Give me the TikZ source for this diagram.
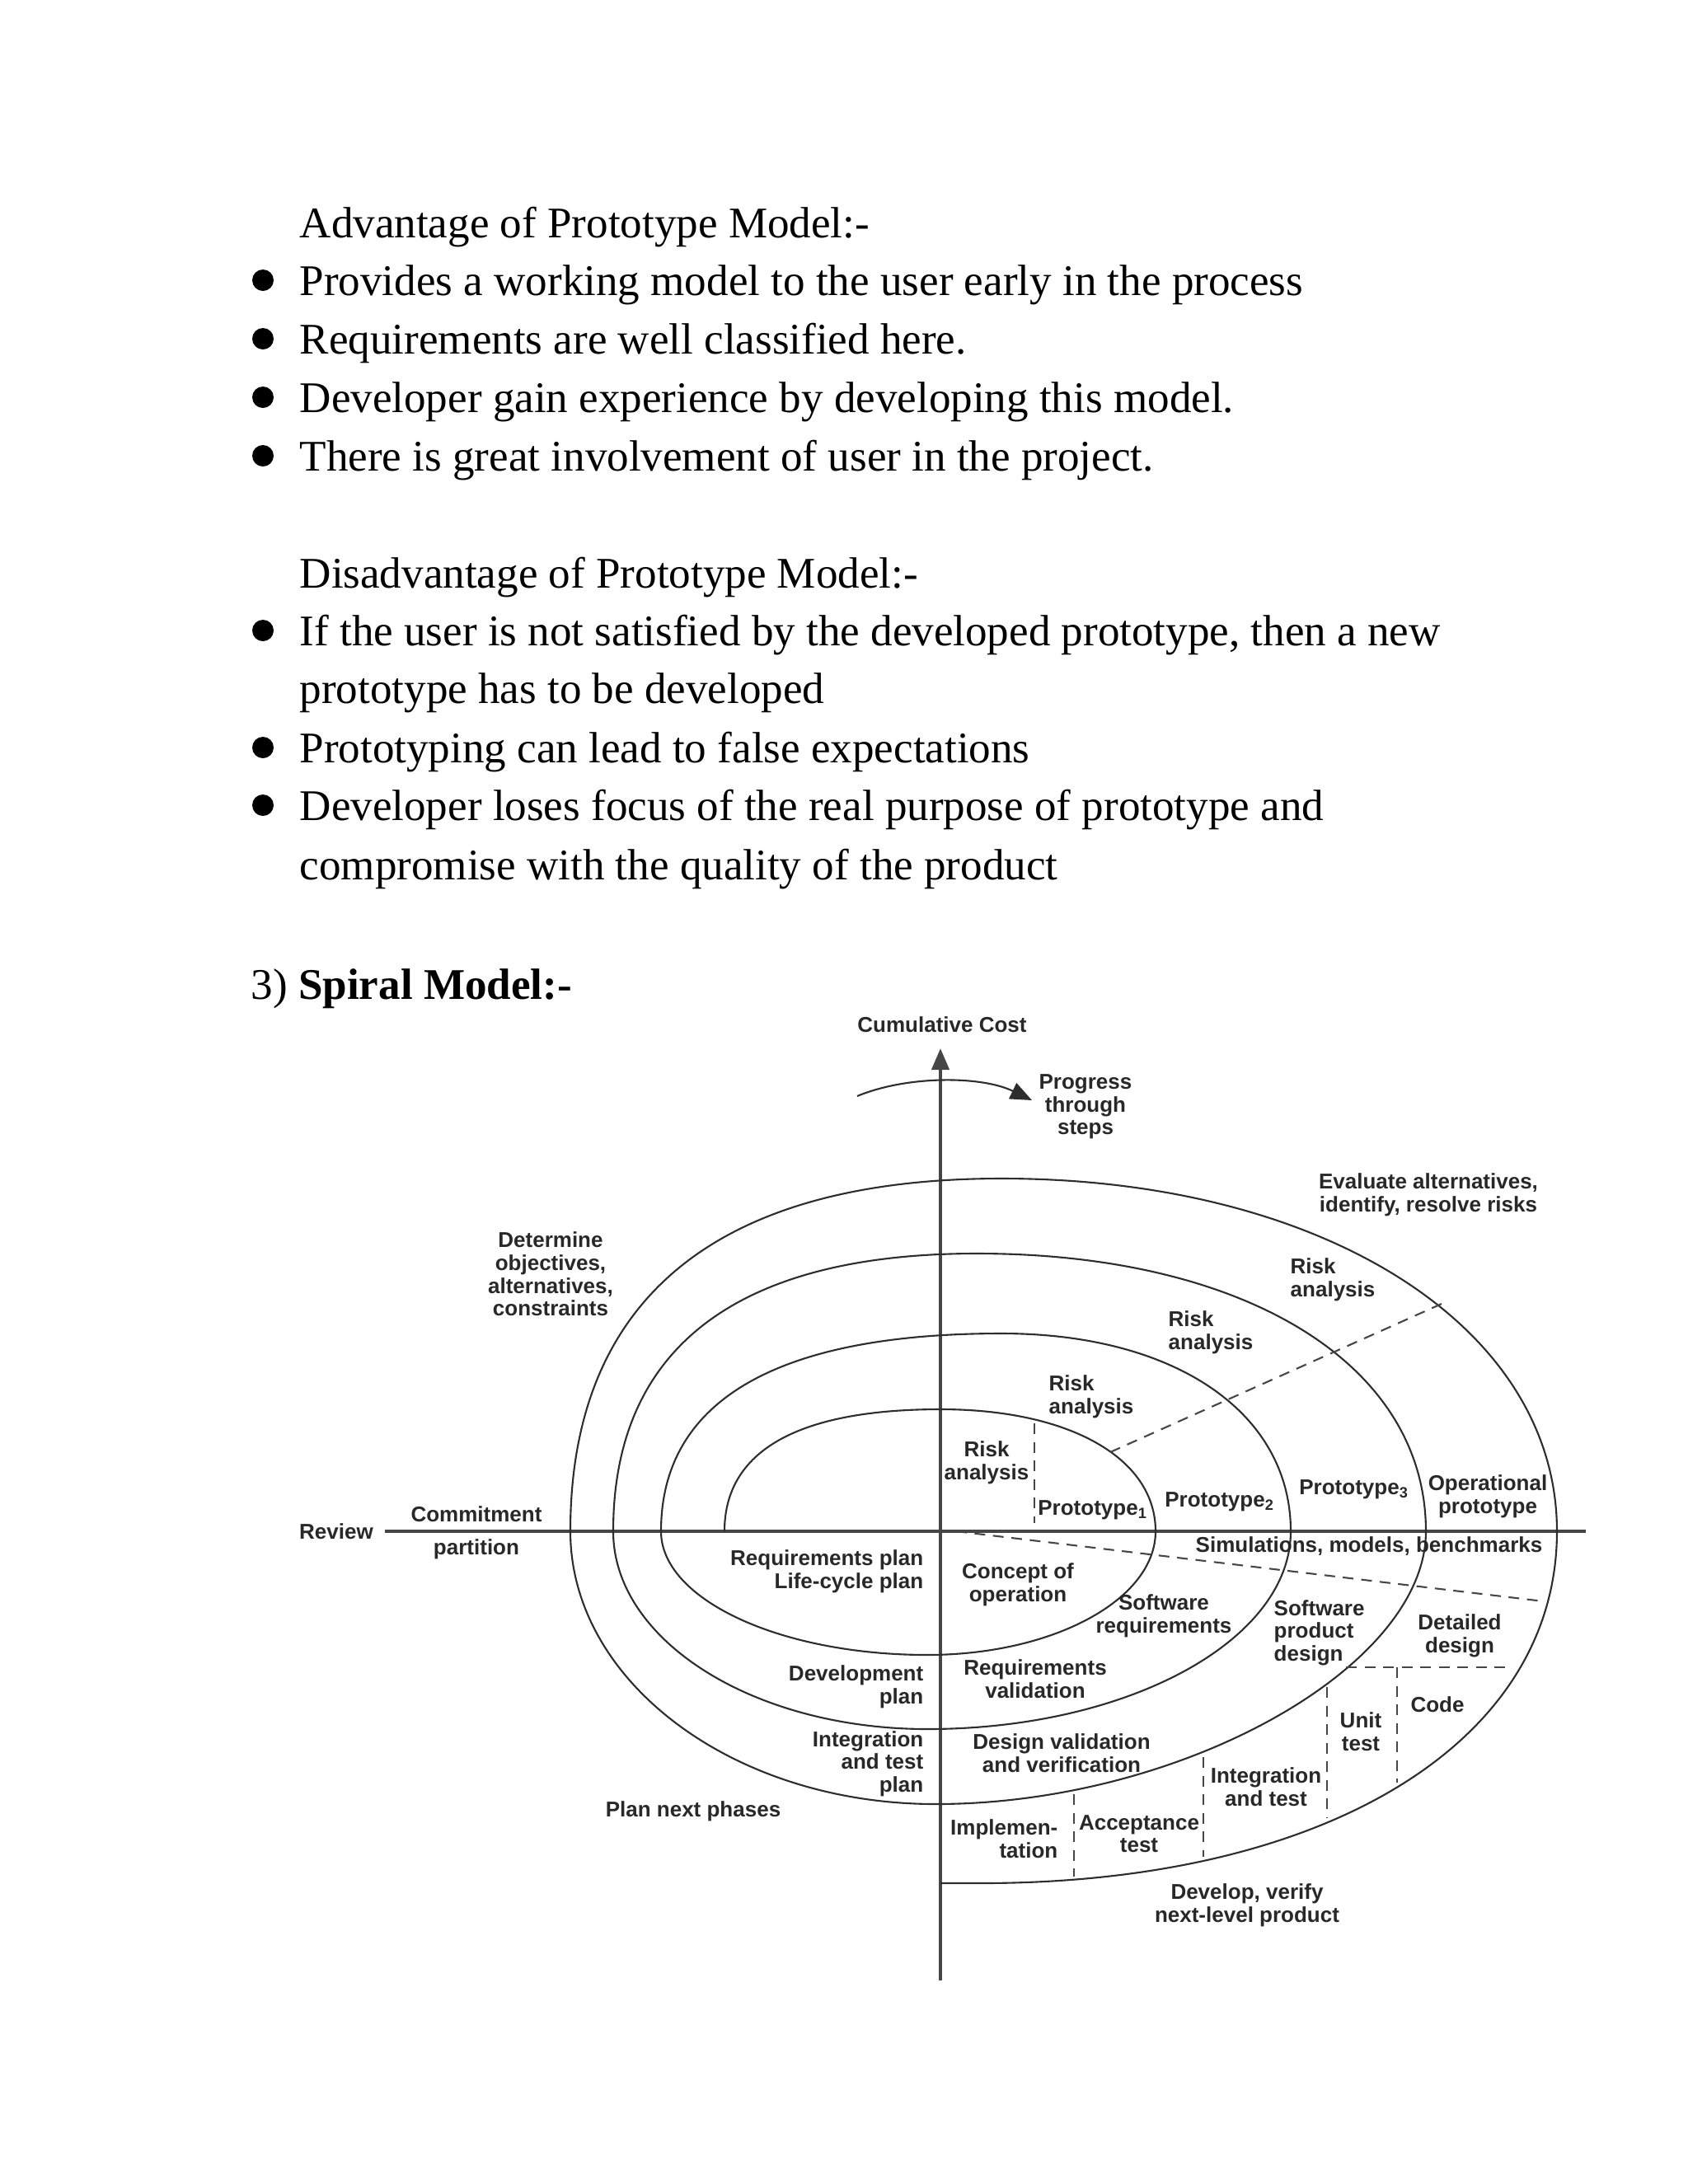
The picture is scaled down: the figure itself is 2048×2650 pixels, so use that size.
\documentclass[tikz,border=0pt]{standalone}
\usepackage{fontspec}
\setmainfont{Liberation Serif}
\newfontfamily\dfont{Liberation Sans}
\usetikzlibrary{arrows.meta}
\definecolor{dline}{RGB}{45,45,45}
\definecolor{dtext}{RGB}{40,40,40}
\definecolor{daxis}{RGB}{70,70,70}
\definecolor{ddash}{RGB}{70,70,70}
\begin{document}
\begin{tikzpicture}[x=0.1mm,y=0.1mm,
  body/.style={anchor=base west, inner sep=0, font=\fontsize{15.1}{18}\selectfont},
  bul/.style={fill=black},
  lbl/.style={inner sep=0, align=center, text=dtext, font=\dfont\bfseries\fontsize{7.4}{7.85}\selectfont},
  spiral/.style={draw=dline, line width=0.6pt},
  dsh/.style={draw=ddash, line width=0.6pt, dash pattern=on 1.3mm off 0.95mm},
  axisline/.style={draw=daxis, line width=1.2pt},
  tip/.style={-{Triangle[length=2.6mm,width=2.1mm]}}
]
\useasboundingbox (0,0) rectangle (2048,-2650);

% ---------- page text ----------
\node[body] (adv) at (363,-288) {Advantage of Prototype Model:-};
\node[body] (a1) at (363,-358) {Provides a working model to the user early in the process};
\node[body] (a2) at (363,-429) {Requirements are well classified here.};
\node[body] (a3) at (363,-500) {Developer gain experience by developing this model.};
\node[body] (a4) at (363,-571) {There is great involvement of user in the project.};
\node[body] (dis) at (363,-713) {Disadvantage of Prototype Model:-};
\node[body] (d1) at (363,-783) {If the user is not satisfied by the developed prototype, then a new};
\node[body] (d1b) at (363,-853) {prototype has to be developed};
\node[body] (d2) at (363,-925) {Prototyping can lead to false expectations};
\node[body] (d3) at (363,-995) {Developer loses focus of the real purpose of prototype and};
\node[body] (d3b) at (363,-1067) {compromise with the quality of the product};
\node[body] (title) at (304,-1212) {3) \textbf{Spiral Model:-}};

\foreach \yy in {358,429,500,571,783,925,995}
  \fill[bul] (319,-\yy+18) circle[radius=1.3mm];

% ---------- axes ----------
\coordinate (vbot) at (1141,-2403);
\coordinate (vtop) at (1141,-1272);
\coordinate (hl) at (467,-1858);
\coordinate (hr) at (1924,-1858);
\draw[axisline] (hl) -- (hr);
\draw[axisline,tip] (vbot) -- (vtop);

% progress arrow
\coordinate (ps) at (1040,-1330);
\coordinate (pe) at (1252,-1335);
\draw[spiral,tip] (ps) .. controls (1100,-1305) and (1190,-1305) .. (pe);

% ---------- spiral ----------
\draw[spiral] (879,-1858)
 .. controls (879,-1760.3) and (968.1,-1710) .. (1141,-1710)
 .. controls (1297.6,-1710) and (1402,-1769.2) .. (1402,-1858)
 .. controls (1402,-1940.8) and (1278,-2008) .. (1125,-2008)
 .. controls (946.6,-2008) and (802,-1940.8) .. (802,-1858)
 .. controls (802,-1699.6) and (942.4,-1618) .. (1215,-1618)
 .. controls (1425.6,-1618) and (1566,-1714) .. (1566,-1858)
 .. controls (1566,-1990.6) and (1368.6,-2098) .. (1125,-2098)
 .. controls (914.6,-2098) and (744,-1990.6) .. (744,-1858)
 .. controls (744,-1635.6) and (894,-1521) .. (1185,-1521)
 .. controls (1512,-1521) and (1730,-1655.8) .. (1730,-1858)
 .. controls (1730,-2023.5) and (1432.5,-2189) .. (1135,-2189)
 .. controls (890.3,-2189) and (692,-2040.8) .. (692,-1858)
 .. controls (692,-1575.5) and (869.8,-1430) .. (1215,-1430)
 .. controls (1606,-1430) and (1889,-1609.8) .. (1889,-1858)
 .. controls (1889,-2114.2) and (1609.4,-2285) .. (1190,-2285)
 -- (1141,-2285);

% ---------- dashed dividers ----------
\draw[dsh] (1347,-1762) -- (1749,-1582);
\draw[dsh] (1255,-1727) -- (1255,-1848);
\draw[dsh] (1160,-1858) -- (1873,-1943);
\draw[dsh] (1633,-2023) -- (1827,-2023);
\draw[dsh] (1695,-2023) -- (1695,-2163);
\draw[dsh] (1610,-2047) -- (1610,-2206);
\draw[dsh] (1460,-2132) -- (1460,-2253);
\draw[dsh] (1303,-2177) -- (1303,-2277);

% ---------- labels ----------
\node[lbl] (cumcost) at (1143,-1243) {Cumulative Cost};
\node[lbl] (progress) at (1317,-1343) {Progress\\through\\steps};
\node[lbl] (evaluate) at (1733,-1450) {Evaluate alternatives,\\identify, resolve risks};
\node[lbl,anchor=west,align=left] (risk4) at (1565,-1553) {Risk\\analysis};
\node[lbl,anchor=west,align=left] (risk3) at (1417,-1617) {Risk\\analysis};
\node[lbl,anchor=west,align=left] (risk2) at (1272,-1695) {Risk\\analysis};
\node[lbl] (risk1) at (1197,-1775) {Risk\\analysis};
\node[lbl] (proto1) at (1326,-1832) {Prototype\textsubscript{1}};
\node[lbl] (proto2) at (1480,-1822) {Prototype\textsubscript{2}};
\node[lbl] (proto3) at (1643,-1807) {Prototype\textsubscript{3}};
\node[lbl] (opproto) at (1805,-1816) {Operational\\prototype};
\node[lbl] (sims) at (1661,-1876) {Simulations, models, benchmarks};
\node[lbl] (review) at (408,-1858) {Review};
\node[lbl] (commit) at (578,-1837) {Commitment};
\node[lbl] (partition) at (578,-1880) {partition};
\node[lbl,anchor=east,align=right] (reqplan) at (1121,-1907) {Requirements plan\\Life-cycle plan};
\node[lbl] (concept) at (1235,-1923) {Concept of\\operation};
\node[lbl] (swreq) at (1412,-1961) {Software\\requirements};
\node[lbl,anchor=west,align=left] (swprod) at (1545,-1981) {Software\\product\\design};
\node[lbl] (detailed) at (1771,-1985) {Detailed\\design};
\node[lbl,anchor=east,align=right] (devplan) at (1121,-2047) {Development\\plan};
\node[lbl] (reqval) at (1256,-2037) {Requirements\\validation};
\node[lbl,anchor=east,align=right] (intplan) at (1121,-2140) {Integration\\and test\\plan};
\node[lbl] (desval) at (1288,-2127) {Design validation\\and verification};
\node[lbl] (unit) at (1651,-2101) {Unit\\test};
\node[lbl] (code) at (1744,-2068) {Code};
\node[lbl] (inttest) at (1536,-2168) {Integration\\and test};
\node[lbl,anchor=east,align=right] (implem) at (1284,-2231) {Implemen-\\tation};
\node[lbl] (accept) at (1382,-2225) {Acceptance\\test};
\node[lbl] (develop) at (1513,-2312) {Develop, verify\\next-level product};
\node[lbl] (plannext) at (841,-2198) {Plan next phases};
\node[lbl] (determine) at (668,-1546) {Determine\\objectives,\\alternatives,\\constraints};
\end{tikzpicture}
\end{document}
